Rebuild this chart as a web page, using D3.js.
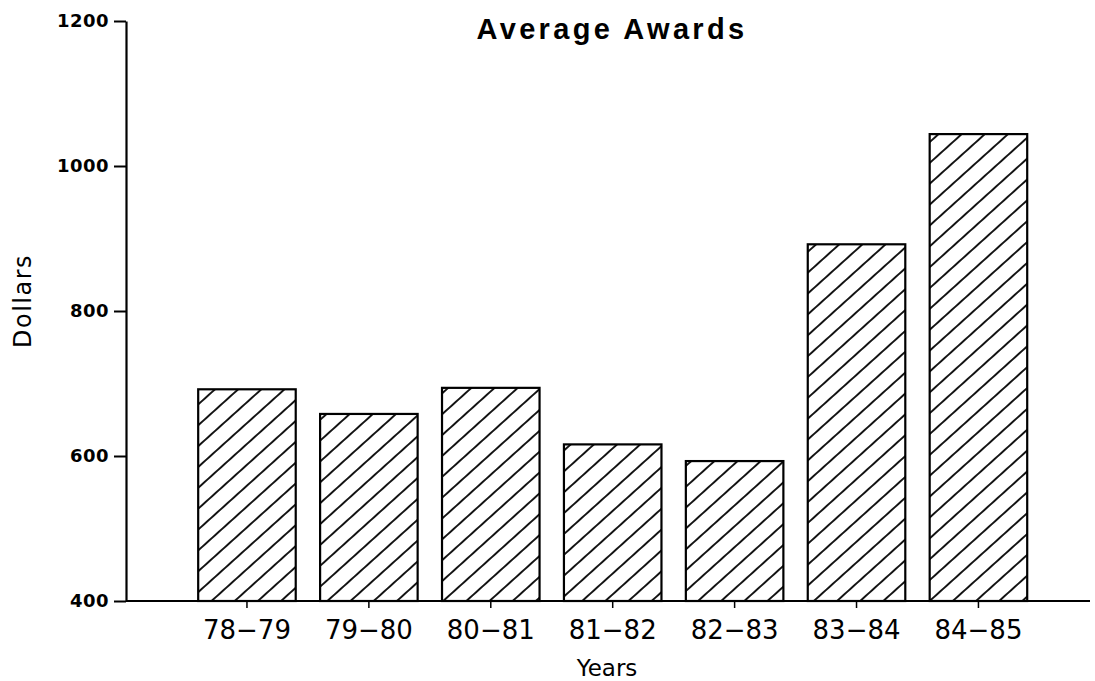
<!DOCTYPE html>
<html>
<head>
<meta charset="utf-8">
<script src="https://d3js.org/d3.v7.min.js"></script>
<style>
  body { margin: 0; background: #fff; }
</style>
</head>
<body>
<div id="container"></div>
<script>
// data
var years = ["78-79", "79-80", "80-81", "81-82", "82-83", "83-84", "84-85"];
var awards = [692, 658, 694, 616, 593, 892, 1044];
var yTicks = [400, 600, 800, 1000, 1200];

// set the dimensions and margins of the graph
var margin = {top: 21, right: 5, bottom: 80, left: 126},
    width = 1095 - margin.left - margin.right,
    height = 681 - margin.top - margin.bottom;

var svg = d3.select("#container")
  .append("svg")
    .attr("width", width + margin.left + margin.right)
    .attr("height", height + margin.top + margin.bottom)

// hatch fill
var defs = svg.append("defs")
var pat = defs.append("pattern")
    .attr("id", "hatch")
    .attr("patternUnits", "userSpaceOnUse")
    .attr("width", 15.5)
    .attr("height", 15.5)
    .attr("patternTransform", "rotate(-42)")
pat.append("line")
    .attr("x1", -2).attr("x2", 18)
    .attr("y1", 7.75).attr("y2", 7.75)
    .attr("stroke", "#000")
    .attr("stroke-width", 1.8)

var g = svg.append("g")
    .attr("transform", "translate(" + margin.left + "," + margin.top + ")");

// X scale
var x = d3.scaleBand()
    .domain(years)
    .range([60, 913.4])
    .paddingInner(0.2)
    .paddingOuter(0.1)

// Y scale
var y = d3.scaleLinear()
    .domain([400, 1200])
    .range([height, 0])

// bars
g.append("g")
  .selectAll("rect")
  .data(years)
  .enter().append("rect")
    .attr("x", function(d) { return x(d); })
    .attr("y", function(d, i) { return y(awards[i]); })
    .attr("width", x.bandwidth())
    .attr("height", function(d, i) { return y(400) - y(awards[i]); })
    .attr("fill", "url(#hatch)")
    .attr("stroke", "#000")
    .attr("stroke-width", 2.2)

// Y axis
var yAxis = g.append("g")
    .call(d3.axisLeft(y).tickValues(yTicks).tickFormat(d3.format("d"))
      .tickSize(12).tickSizeOuter(0).tickPadding(5))
yAxis.select(".domain").attr("stroke-width", 2.2)
yAxis.selectAll(".tick line").attr("stroke-width", 2)
yAxis.selectAll(".tick text")
    .attr("font-family", "DejaVu Sans")
    .attr("font-weight", "bold")
    .attr("font-size", 18)
    .attr("letter-spacing", 0.5)
    .attr("fill", "#000")

// X axis
var xAxis = g.append("g")
    .attr("transform", "translate(0," + height + ")")
    .call(d3.axisBottom(x).tickSize(7).tickSizeOuter(0).tickPadding(13)
      .tickFormat(function(d) { return d.replace("-", "\u2212"); }))
xAxis.select(".domain")
    .attr("d", "M0,0H" + width)
    .attr("stroke-width", 2.2)
xAxis.selectAll(".tick line").attr("stroke-width", 1.5)
xAxis.selectAll(".tick text")
    .attr("font-family", "DejaVu Sans")
    .attr("font-size", 26)
    .attr("fill", "#000")

// title
svg.append("text")
    .attr("x", 612)
    .attr("y", 39)
    .attr("text-anchor", "middle")
    .attr("font-family", "Liberation Sans, Arial, sans-serif")
    .attr("font-weight", "bold")
    .attr("font-size", 29)
    .attr("letter-spacing", 3.3)
    .text("Average Awards")

// axis labels
svg.append("text")
    .attr("x", 607)
    .attr("y", 676)
    .attr("text-anchor", "middle")
    .attr("font-family", "DejaVu Sans")
    .attr("font-size", 23)
    .text("Years")

svg.append("text")
    .attr("transform", "translate(31,301) rotate(-90)")
    .attr("text-anchor", "middle")
    .attr("font-family", "DejaVu Sans")
    .attr("font-size", 24)
    .attr("letter-spacing", 1.5)
    .text("Dollars")
</script>
</body>
</html>
